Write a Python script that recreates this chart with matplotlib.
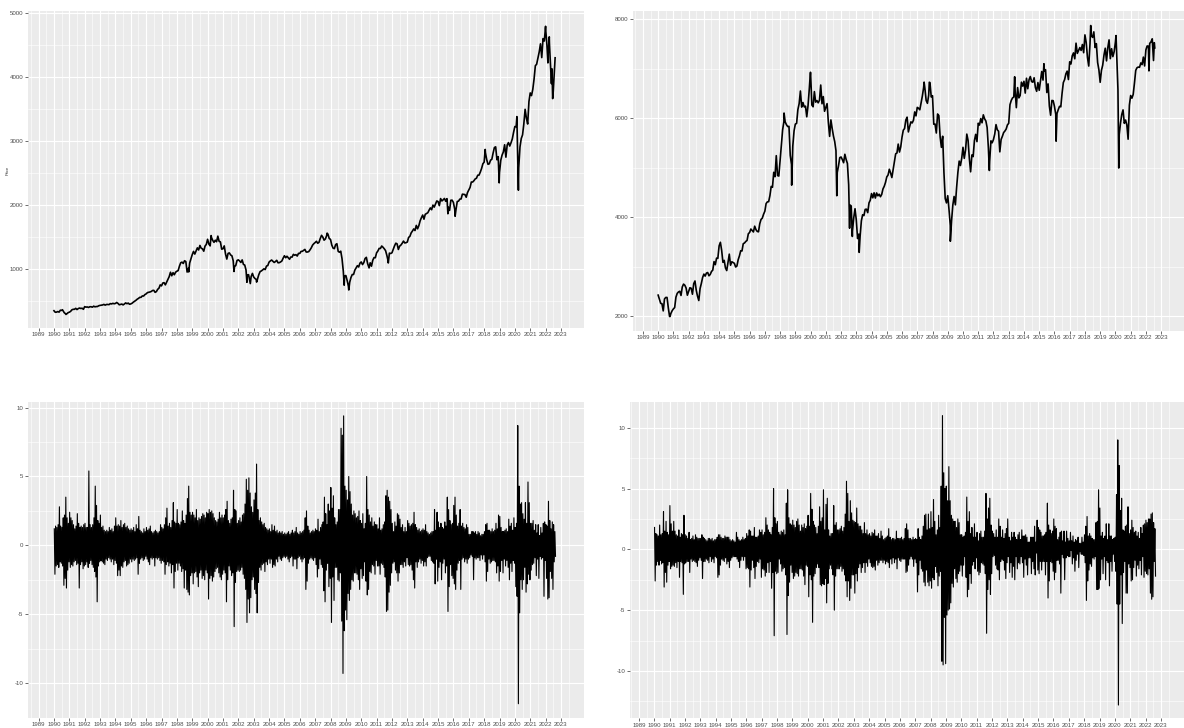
import numpy as np
import matplotlib
matplotlib.use("Agg")
import matplotlib.pyplot as plt

plt.rcParams['font.family'] = ['Liberation Sans', 'DejaVu Sans']
plt.rcParams['axes.unicode_minus'] = False

START_YEAR = 1990

# ---------------- S&P 500 month-end closes (Jan 1990 .. Jul 2022) ----------------
SPX_MONTHLY = [
    329, 331, 340, 331, 361, 358, 356, 323, 306, 304, 322, 330,
    343, 367, 375, 375, 390, 371, 387, 395, 388, 392, 375, 417,
    409, 412, 404, 415, 415, 408, 424, 414, 418, 419, 431, 436,
    439, 443, 452, 440, 450, 451, 448, 464, 459, 468, 462, 466,
    482, 467, 446, 451, 457, 444, 458, 475, 463, 472, 454, 459,
    470, 487, 501, 515, 533, 545, 562, 562, 584, 582, 605, 616,
    636, 641, 646, 654, 669, 671, 640, 652, 687, 705, 757, 741,
    786, 791, 757, 801, 848, 885, 954, 899, 947, 915, 955, 970,
    980, 1049, 1102, 1112, 1091, 1134, 1121, 957, 1017, 1099, 1164, 1229,
    1280, 1238, 1286, 1335, 1302, 1373, 1329, 1320, 1283, 1363, 1389, 1469,
    1394, 1366, 1499, 1452, 1421, 1455, 1431, 1518, 1437, 1429, 1315, 1320,
    1366, 1240, 1160, 1249, 1256, 1224, 1211, 1134, 1041, 1060, 1139, 1148,
    1130, 1107, 1147, 1076, 1067, 990, 912, 916, 815, 886, 936, 880,
    856, 841, 848, 917, 964, 975, 990, 1008, 996, 1051, 1058, 1112,
    1131, 1145, 1126, 1107, 1121, 1141, 1102, 1104, 1115, 1130, 1174, 1212,
    1181, 1204, 1181, 1157, 1192, 1191, 1234, 1220, 1229, 1207, 1249, 1248,
    1280, 1281, 1295, 1311, 1270, 1270, 1277, 1304, 1336, 1378, 1401, 1418,
    1438, 1407, 1421, 1482, 1531, 1503, 1455, 1474, 1527, 1549, 1481, 1468,
    1379, 1331, 1323, 1386, 1400, 1280, 1267, 1283, 1166, 969, 896, 903,
    826, 735, 798, 873, 919, 919, 987, 1021, 1057, 1036, 1096, 1115,
    1074, 1104, 1169, 1187, 1089, 1031, 1102, 1049, 1141, 1183, 1181, 1258,
    1286, 1327, 1326, 1364, 1345, 1321, 1292, 1219, 1131, 1253, 1247, 1258,
    1312, 1366, 1408, 1398, 1310, 1362, 1379, 1407, 1441, 1412, 1416, 1426,
    1498, 1515, 1569, 1598, 1631, 1606, 1686, 1633, 1682, 1757, 1806, 1848,
    1783, 1859, 1872, 1884, 1924, 1960, 1931, 2003, 1972, 2018, 2068, 2059,
    1995, 2105, 2068, 2086, 2107, 2063, 2104, 1972, 1920, 2079, 2080, 2044,
    1940, 1932, 2060, 2065, 2097, 2099, 2174, 2171, 2168, 2126, 2199, 2239,
    2279, 2364, 2363, 2384, 2412, 2423, 2470, 2472, 2519, 2575, 2648, 2674,
    2824, 2714, 2641, 2648, 2705, 2718, 2816, 2902, 2914, 2712, 2760, 2507,
    2704, 2784, 2834, 2946, 2752, 2942, 2980, 2926, 2977, 3038, 3141, 3231,
    3226, 2954, 2585, 2912, 3044, 3100, 3271, 3500, 3363, 3270, 3622, 3756,
    3714, 3811, 3973, 4181, 4204, 4298, 4395, 4523, 4308, 4605, 4567, 4766,
    4516, 4374, 4530, 4132, 4132, 3785, 4130,
]
# intra-month turning points (fractional year, level)
SPX_EXTREME_DATES = [1990.0, 1990.55, 1990.78, 1998.77, 2000.23, 2001.72, 2002.56, 2002.78,
                     2003.19, 2007.78, 2008.89, 2009.19, 2010.51, 2011.76, 2015.64, 2016.11,
                     2018.07, 2018.98, 2020.13, 2020.23, 2022.0, 2022.15, 2022.24, 2022.38,
                     2022.46, 2022.62]
SPX_EXTREME_VALUES = [353, 369, 295, 959, 1527, 966, 797, 777,
                      800, 1565, 752, 677, 1022, 1099, 1868, 1829,
                      2873, 2351, 3386, 2237, 4797, 4225, 4632, 3901,
                      3667, 4305]

# ---------------- FTSE 100 month-end closes (Jan 1990 .. Jul 2022) ----------------
FTSE_MONTHLY = [
    2337, 2255, 2248, 2103, 2345, 2375, 2375, 2163, 1990, 2050, 2105, 2143,
    2170, 2380, 2457, 2486, 2500, 2415, 2588, 2645, 2622, 2566, 2420, 2493,
    2571, 2562, 2440, 2654, 2708, 2521, 2400, 2313, 2553, 2658, 2778, 2847,
    2807, 2868, 2879, 2813, 2840, 2900, 2928, 3100, 3038, 3171, 3166, 3418,
    3491, 3328, 3086, 3125, 2971, 2919, 3082, 3251, 3027, 3097, 3081, 3066,
    2991, 3010, 3138, 3217, 3320, 3315, 3463, 3477, 3508, 3529, 3664, 3689,
    3759, 3728, 3700, 3817, 3747, 3711, 3703, 3867, 3953, 3980, 4059, 4119,
    4276, 4309, 4313, 4436, 4622, 4604, 4907, 4818, 5244, 4842, 4831, 5136,
    5458, 5767, 5932, 5928, 5870, 5833, 5837, 5249, 5064, 5438, 5744, 5883,
    5896, 6175, 6296, 6552, 6226, 6319, 6231, 6246, 6030, 6255, 6597, 6930,
    6268, 6233, 6540, 6327, 6359, 6313, 6365, 6673, 6294, 6439, 6142, 6222,
    6297, 5918, 5634, 5967, 5796, 5643, 5529, 5345, 4903, 5040, 5204, 5217,
    5165, 5101, 5272, 5166, 5086, 4656, 4246, 4227, 3722, 3989, 4170, 3940,
    3567, 3656, 3613, 3926, 4049, 4031, 4157, 4161, 4091, 4288, 4343, 4477,
    4390, 4492, 4386, 4489, 4431, 4464, 4413, 4459, 4571, 4624, 4703, 4814,
    4852, 4969, 4894, 4801, 4964, 5113, 5282, 5297, 5478, 5317, 5423, 5619,
    5760, 5792, 5965, 6023, 5724, 5833, 5928, 5906, 5961, 6129, 6049, 6221,
    6203, 6172, 6308, 6449, 6621, 6608, 6360, 6303, 6467, 6722, 6432, 6457,
    5880, 5884, 5702, 6087, 6054, 5626, 5412, 5637, 4903, 4377, 4288, 4434,
    4150, 3830, 3926, 4244, 4418, 4249, 4608, 4909, 5134, 5045, 5191, 5413,
    5189, 5355, 5680, 5553, 5188, 4917, 5258, 5225, 5549, 5675, 5528, 5900,
    5863, 5994, 5909, 6070, 5990, 5946, 5815, 5395, 5128, 5544, 5505, 5572,
    5682, 5872, 5768, 5738, 5321, 5571, 5635, 5711, 5742, 5783, 5867, 5898,
    6277, 6361, 6412, 6430, 6583, 6215, 6621, 6413, 6462, 6731, 6651, 6749,
    6510, 6810, 6598, 6780, 6845, 6744, 6730, 6820, 6623, 6546, 6723, 6566,
    6749, 6946, 6773, 6961, 6984, 6521, 6696, 6248, 6062, 6361, 6356, 6242,
    6083, 6097, 6175, 6242, 6231, 6504, 6724, 6782, 6899, 6954, 6784, 7143,
    7099, 7263, 7323, 7204, 7520, 7313, 7372, 7431, 7373, 7493, 7327, 7688,
    7534, 7232, 7057, 7509, 7678, 7637, 7749, 7432, 7510, 7128, 6980, 6728,
    6969, 7075, 7279, 7418, 7162, 7426, 7587, 7207, 7408, 7248, 7347, 7542,
    7286, 6581, 5672, 5901, 6077, 6170, 5898, 5964, 5866, 5577, 6266, 6461,
    6407, 6483, 6714, 6970, 7023, 7037, 7032, 7120, 7086, 7238, 7059, 7385,
    7464, 7458, 7516, 7545, 7608, 7169, 7423,
]
FTSE_EXTREME_DATES = [1990.0, 1990.78, 1998.26, 1998.76, 1999.99, 2001.72, 2002.56, 2002.74,
                      2003.19, 2007.45, 2007.79, 2009.17, 2011.73, 2013.39, 2015.31, 2016.11,
                      2018.38, 2020.04, 2020.22, 2022.2, 2022.55]
FTSE_EXTREME_VALUES = [2422, 1990, 6106, 4648, 6930, 4434, 3777, 3609,
                       3287, 6732, 6730, 3512, 4944, 6840, 7104, 5537,
                       7877, 7674, 4994, 6959, 7530]

# ---------------- daily log-returns (%), monthly max / min, Jan 1990 .. Aug 2022 ----------------
FTSE_RET_HI = [
    1.2, 1.4, 1.3, 1.5, 2.8, 1.4, 1.3, 2.0, 2.2, 3.5, 2.0, 1.6,
    2.4, 2.0, 1.8, 1.5, 1.2, 1.4, 2.3, 1.6, 1.3, 1.4, 1.3, 1.5,
    1.6, 1.3, 1.3, 5.4, 1.5, 1.3, 1.5, 2.0, 4.3, 2.9, 1.8, 1.6,
    2.2, 1.3, 1.4, 1.1, 1.0, 1.1, 1.0, 1.3, 1.1, 1.2, 1.0, 1.4,
    2.0, 1.4, 1.5, 1.4, 1.8, 1.3, 1.5, 1.6, 1.3, 1.4, 1.2, 1.1,
    1.2, 1.1, 1.3, 1.0, 1.5, 1.2, 2.1, 1.1, 1.0, 0.9, 1.2, 1.0,
    1.3, 1.1, 1.2, 1.4, 1.0, 0.9, 1.0, 1.1, 1.0, 0.9, 1.0, 1.5,
    1.3, 1.2, 1.5, 2.0, 2.7, 1.4, 1.6, 1.3, 1.8, 3.1, 1.7, 1.6,
    2.6, 1.6, 1.5, 1.7, 2.5, 1.8, 1.6, 2.2, 3.4, 4.3, 2.4, 2.2,
    2.4, 2.2, 2.0, 2.6, 1.8, 2.0, 1.9, 2.1, 2.3, 2.2, 2.0, 2.4,
    2.3, 2.6, 2.4, 2.5, 2.3, 2.0, 1.8, 1.7, 1.9, 2.4, 2.0, 2.2,
    2.0, 2.2, 2.6, 3.2, 1.8, 1.6, 1.9, 2.0, 4.0, 2.6, 2.5, 1.6,
    1.8, 2.0, 1.7, 2.2, 2.3, 3.0, 4.8, 4.0, 4.9, 3.8, 2.8, 2.4,
    3.3, 3.8, 5.9, 2.6, 1.8, 2.0, 1.7, 1.5, 1.6, 1.3, 1.2, 1.1,
    1.2, 1.0, 1.5, 1.1, 1.4, 1.0, 1.1, 0.9, 1.0, 0.9, 1.0, 0.8,
    0.9, 0.8, 0.9, 1.0, 0.8, 0.9, 1.1, 0.9, 1.0, 1.3, 0.9, 0.8,
    1.0, 0.9, 1.0, 1.1, 2.0, 2.5, 1.4, 1.1, 0.9, 1.0, 1.1, 1.0,
    1.2, 1.1, 1.9, 1.0, 1.3, 1.5, 1.7, 3.5, 2.3, 1.5, 3.0, 2.5,
    4.2, 2.7, 3.6, 2.0, 1.5, 1.7, 2.6, 2.6, 8.5, 8.0, 9.4, 4.3,
    4.0, 3.3, 5.0, 3.9, 3.0, 2.2, 2.5, 2.3, 2.0, 2.1, 2.5, 1.8,
    1.6, 2.3, 1.2, 1.6, 5.0, 2.6, 2.2, 1.7, 2.0, 1.4, 1.7, 1.5,
    1.5, 1.2, 2.0, 1.1, 1.2, 1.5, 1.7, 3.6, 4.0, 3.5, 3.2, 2.6,
    1.6, 1.0, 1.7, 1.4, 2.3, 2.2, 1.9, 1.3, 1.5, 1.0, 1.3, 1.0,
    1.8, 1.6, 1.4, 1.5, 1.6, 2.4, 1.5, 1.3, 1.1, 1.2, 1.0, 1.1,
    1.2, 1.1, 1.5, 1.0, 0.9, 0.8, 0.9, 1.0, 1.0, 2.6, 1.1, 2.4,
    1.7, 1.3, 1.6, 1.3, 1.2, 1.7, 1.4, 3.5, 2.6, 1.8, 1.5, 1.6,
    2.9, 3.5, 2.2, 1.4, 1.6, 2.6, 1.4, 1.6, 1.3, 1.2, 1.5, 1.3,
    0.8, 0.8, 1.0, 1.0, 0.9, 1.0, 0.8, 1.0, 0.9, 0.7, 0.8, 0.8,
    1.0, 1.5, 1.6, 1.1, 1.1, 1.0, 1.2, 1.0, 1.1, 1.6, 1.2, 2.2,
    2.1, 1.3, 1.0, 1.0, 1.1, 1.2, 1.0, 1.9, 1.4, 1.6, 1.1, 2.0,
    1.3, 1.6, 8.7, 4.3, 3.0, 3.1, 2.3, 1.9, 3.1, 1.6, 4.6, 3.1,
    1.6, 1.6, 1.8, 1.1, 1.5, 0.9, 1.5, 0.7, 1.3, 0.9, 1.6, 1.7,
    1.5, 1.4, 3.2, 1.8, 1.2, 1.7, 1.5, 1.0,
]
FTSE_RET_LO = [
    -2.1, -1.5, -1.4, -1.6, -1.2, -1.3, -1.5, -2.9, -2.4, -3.1, -1.8, -1.2,
    -1.6, -1.4, -1.5, -1.2, -1.1, -1.4, -1.3, -3.1, -1.4, -1.2, -1.7, -1.5,
    -1.4, -1.2, -1.6, -1.3, -1.1, -1.4, -1.6, -1.9, -2.3, -4.1, -1.5, -1.2,
    -1.1, -1.2, -1.3, -1.4, -1.0, -1.1, -0.9, -1.0, -1.2, -1.0, -1.4, -1.1,
    -1.3, -2.2, -1.8, -2.2, -1.5, -1.6, -1.2, -1.1, -1.5, -1.4, -1.3, -1.0,
    -1.2, -1.0, -1.1, -1.0, -0.9, -2.1, -1.3, -1.0, -0.9, -1.1, -1.0, -0.8,
    -1.0, -1.2, -1.4, -0.9, -1.0, -0.9, -1.5, -0.9, -1.0, -0.9, -1.1, -1.3,
    -1.1, -1.2, -2.1, -1.4, -1.2, -1.5, -1.3, -2.0, -1.4, -3.1, -1.9, -1.3,
    -1.8, -1.3, -1.5, -1.9, -1.7, -3.1, -1.8, -3.2, -3.4, -3.6, -2.2, -2.0,
    -2.8, -2.0, -1.9, -2.3, -3.0, -2.0, -1.8, -2.4, -2.2, -2.5, -1.8, -2.0,
    -3.9, -2.4, -2.2, -2.6, -2.3, -1.9, -1.7, -1.6, -2.0, -2.3, -2.5, -2.1,
    -1.8, -2.0, -4.1, -2.5, -1.5, -1.8, -2.2, -2.0, -5.9, -2.7, -1.9, -1.8,
    -1.9, -1.8, -1.6, -2.1, -2.4, -3.2, -5.6, -3.9, -4.9, -3.8, -2.5, -2.3,
    -3.2, -3.5, -4.9, -2.7, -1.6, -1.8, -1.4, -1.3, -1.9, -1.2, -1.4, -1.0,
    -1.3, -1.0, -1.6, -1.4, -1.5, -1.0, -1.2, -0.8, -1.0, -1.1, -0.9, -0.8,
    -0.9, -0.8, -1.0, -1.2, -0.9, -0.8, -1.5, -1.0, -1.0, -1.7, -0.9, -0.8,
    -1.0, -1.2, -1.0, -0.9, -3.2, -2.6, -1.3, -1.0, -0.9, -1.0, -1.1, -0.9,
    -1.4, -2.3, -1.7, -1.0, -1.4, -1.6, -3.3, -4.1, -1.8, -1.3, -3.0, -2.4,
    -5.6, -2.3, -4.0, -1.6, -1.6, -2.5, -2.6, -2.0, -5.5, -9.3, -6.2, -4.7,
    -5.4, -3.5, -4.0, -3.2, -2.5, -2.6, -2.0, -2.0, -2.1, -2.5, -3.2, -1.7,
    -2.4, -2.2, -1.2, -2.6, -3.6, -3.2, -1.9, -2.0, -1.4, -1.5, -2.1, -1.1,
    -1.5, -1.5, -2.1, -1.3, -1.4, -1.6, -2.3, -4.8, -4.7, -3.4, -2.9, -2.0,
    -1.3, -1.2, -1.8, -2.0, -2.6, -2.0, -1.4, -1.4, -1.6, -1.2, -1.5, -0.9,
    -1.4, -1.5, -1.4, -1.8, -2.5, -3.1, -1.2, -1.6, -1.2, -1.0, -1.3, -1.1,
    -1.5, -1.2, -1.5, -0.9, -0.8, -0.8, -1.1, -1.2, -1.3, -2.8, -1.0, -2.6,
    -1.6, -1.2, -2.5, -1.3, -1.0, -2.0, -1.5, -4.8, -3.0, -1.4, -2.2, -2.4,
    -2.8, -3.2, -1.8, -1.3, -1.1, -3.2, -1.0, -0.9, -1.2, -1.0, -1.3, -1.0,
    -0.9, -0.7, -0.8, -2.5, -0.9, -1.0, -0.9, -0.9, -1.1, -0.7, -1.0, -0.7,
    -1.2, -2.6, -1.9, -1.0, -1.3, -1.2, -1.1, -1.1, -1.2, -2.0, -1.5, -2.6,
    -1.9, -1.1, -2.0, -1.0, -1.5, -1.1, -1.6, -2.5, -1.3, -1.9, -1.1, -1.3,
    -3.0, -3.7, -11.5, -4.9, -2.5, -3.2, -2.5, -1.6, -3.4, -2.8, -2.1, -2.5,
    -1.8, -1.4, -1.3, -0.9, -2.2, -1.0, -2.4, -0.8, -1.0, -0.9, -3.7, -1.1,
    -2.4, -3.9, -3.8, -1.9, -2.4, -3.2, -1.2, -0.8,
]
SPX_RET_HI = [
    1.8, 1.3, 1.2, 1.1, 2.0, 1.2, 1.3, 3.1, 1.5, 2.3, 1.4, 1.2,
    3.6, 2.1, 1.5, 2.3, 1.5, 1.2, 1.1, 1.6, 1.0, 1.3, 1.2, 2.8,
    1.2, 1.1, 0.9, 1.4, 0.8, 0.9, 1.1, 0.8, 1.2, 1.0, 0.9, 0.9,
    0.9, 1.2, 1.0, 0.9, 0.8, 0.7, 0.9, 0.9, 0.8, 0.9, 0.7, 0.8,
    0.8, 1.0, 1.2, 1.2, 1.0, 0.9, 0.9, 1.1, 1.0, 1.0, 1.0, 0.8,
    0.7, 0.8, 0.7, 0.6, 1.4, 1.0, 0.8, 0.7, 0.8, 1.0, 0.8, 0.9,
    1.3, 1.1, 1.6, 1.5, 1.1, 1.1, 1.8, 1.0, 1.0, 1.1, 1.6, 1.4,
    1.6, 1.2, 1.4, 2.6, 2.0, 1.6, 1.4, 1.2, 1.8, 5.0, 2.6, 2.1,
    2.3, 1.4, 1.2, 1.5, 1.4, 1.6, 1.2, 3.8, 4.9, 2.6, 2.1, 2.0,
    2.4, 2.0, 1.8, 2.3, 2.5, 2.0, 1.5, 2.0, 1.8, 2.1, 1.7, 1.9,
    2.8, 1.9, 4.6, 3.3, 2.3, 2.0, 1.8, 1.3, 1.9, 3.5, 2.3, 2.6,
    4.9, 1.6, 3.7, 4.2, 1.6, 1.1, 1.3, 1.3, 3.6, 2.0, 2.2, 1.6,
    1.6, 1.7, 1.9, 1.5, 1.8, 2.9, 5.6, 4.6, 2.3, 4.0, 3.0, 2.4,
    2.3, 2.2, 3.4, 2.1, 1.9, 1.9, 1.6, 1.3, 2.2, 1.3, 1.6, 1.2,
    1.3, 1.1, 1.4, 1.3, 1.6, 1.1, 1.1, 1.3, 0.9, 1.5, 1.1, 0.8,
    0.9, 1.0, 1.1, 1.7, 1.0, 0.8, 0.9, 0.9, 0.8, 1.5, 0.9, 0.9,
    0.9, 1.0, 0.8, 0.9, 1.7, 2.1, 1.6, 0.9, 0.9, 0.8, 1.0, 0.8,
    0.9, 0.8, 1.7, 1.0, 0.8, 1.1, 1.9, 2.8, 2.9, 1.6, 2.9, 1.7,
    3.1, 1.8, 4.1, 2.3, 1.2, 1.6, 2.8, 1.8, 5.2, 11.0, 6.3, 5.0,
    5.2, 4.0, 6.8, 4.0, 2.8, 2.5, 2.3, 2.3, 1.8, 2.5, 2.2, 1.2,
    1.2, 1.0, 1.1, 1.4, 4.3, 2.3, 3.1, 1.3, 1.8, 1.0, 2.1, 1.0,
    1.4, 0.7, 1.3, 1.5, 1.0, 1.0, 1.5, 4.6, 2.5, 3.4, 4.2, 2.0,
    1.5, 1.3, 1.0, 1.6, 1.0, 2.5, 1.9, 1.0, 1.6, 0.9, 1.3, 1.7,
    2.5, 1.0, 0.7, 1.4, 1.0, 1.4, 1.0, 0.8, 1.2, 1.4, 0.8, 1.6,
    1.1, 1.1, 1.2, 1.0, 0.6, 0.6, 1.0, 1.0, 1.0, 1.9, 0.6, 2.4,
    1.8, 1.6, 1.4, 1.1, 1.1, 1.2, 1.4, 3.8, 2.0, 1.6, 1.3, 1.5,
    2.5, 1.9, 1.7, 0.8, 1.0, 1.4, 1.5, 0.7, 1.5, 0.6, 1.5, 0.9,
    0.7, 1.4, 0.7, 1.1, 0.6, 0.8, 0.7, 1.0, 0.5, 0.5, 1.0, 0.6,
    1.2, 1.9, 2.7, 1.1, 1.3, 1.1, 0.9, 0.8, 0.8, 2.2, 2.3, 4.9,
    3.4, 1.1, 1.4, 0.9, 1.1, 2.1, 0.8, 2.1, 1.1, 1.1, 0.8, 0.9,
    1.0, 4.5, 9.0, 6.9, 3.2, 4.2, 1.6, 1.5, 1.9, 2.0, 3.5, 1.3,
    1.6, 2.4, 1.8, 1.4, 1.5, 1.1, 1.4, 0.9, 1.8, 1.3, 2.0, 2.1,
    2.4, 2.2, 2.5, 2.5, 2.9, 3.0, 2.2, 1.7,
]
SPX_RET_LO = [
    -2.6, -1.3, -1.0, -1.3, -0.9, -1.2, -1.1, -3.1, -1.9, -2.7, -1.3, -1.0,
    -1.6, -1.4, -1.3, -1.4, -1.1, -1.5, -1.0, -2.3, -1.0, -1.1, -3.7, -1.2,
    -1.1, -1.0, -1.0, -1.9, -0.8, -1.0, -0.9, -1.0, -1.1, -1.4, -0.9, -0.7,
    -0.9, -2.4, -1.0, -1.0, -0.8, -0.9, -1.1, -0.6, -1.0, -0.8, -1.1, -0.6,
    -0.7, -2.3, -2.1, -1.3, -0.8, -0.9, -1.0, -0.7, -1.2, -1.0, -1.5, -0.9,
    -0.7, -0.6, -0.6, -0.6, -0.8, -1.0, -1.5, -0.9, -0.6, -0.9, -0.6, -1.6,
    -1.5, -1.6, -3.1, -1.7, -0.9, -1.5, -2.4, -1.4, -1.0, -1.1, -0.8, -2.3,
    -1.6, -1.7, -2.2, -1.9, -1.1, -1.9, -1.0, -3.2, -1.9, -7.1, -1.8, -2.0,
    -1.9, -0.8, -1.2, -1.8, -1.6, -1.5, -2.1, -7.0, -3.8, -2.7, -1.3, -1.9,
    -2.4, -2.2, -1.9, -2.0, -2.2, -1.6, -1.6, -1.7, -2.2, -2.9, -1.3, -1.4,
    -3.9, -2.1, -2.5, -6.0, -2.2, -2.0, -1.5, -1.2, -1.5, -2.9, -3.0, -2.8,
    -2.9, -2.4, -4.4, -2.8, -1.6, -1.3, -1.6, -2.1, -5.0, -2.2, -1.6, -1.6,
    -1.6, -1.4, -1.8, -1.6, -2.1, -2.6, -3.9, -2.6, -4.2, -3.2, -2.1, -2.1,
    -3.6, -2.0, -2.6, -1.5, -1.2, -1.9, -1.5, -1.1, -1.9, -1.1, -1.4, -0.8,
    -1.1, -1.4, -1.5, -1.4, -1.7, -0.9, -1.3, -1.1, -0.9, -0.9, -1.1, -0.9,
    -1.2, -1.0, -1.1, -1.5, -0.8, -1.2, -0.7, -1.1, -0.8, -1.6, -0.7, -0.9,
    -1.0, -0.8, -0.8, -0.8, -1.9, -1.8, -1.3, -0.8, -0.6, -0.8, -1.4, -0.8,
    -1.1, -3.5, -2.1, -0.9, -1.6, -1.8, -2.7, -3.0, -1.7, -2.7, -3.0, -2.6,
    -3.2, -2.3, -2.5, -1.4, -1.9, -3.0, -2.2, -1.8, -9.2, -9.5, -5.6, -9.4,
    -5.4, -5.0, -4.9, -4.4, -2.8, -3.1, -1.6, -2.4, -2.7, -2.0, -1.8, -1.3,
    -2.2, -1.3, -0.6, -2.3, -3.9, -3.3, -2.0, -2.8, -1.3, -1.0, -1.6, -0.7,
    -1.8, -2.1, -1.9, -1.1, -1.2, -1.3, -2.0, -6.9, -3.3, -2.5, -3.7, -2.0,
    -0.6, -0.5, -1.3, -1.6, -1.7, -2.5, -1.0, -0.8, -0.9, -1.7, -2.4, -1.1,
    -0.6, -1.9, -1.1, -2.3, -1.4, -2.5, -0.6, -1.6, -1.1, -1.2, -0.6, -1.1,
    -2.3, -0.8, -1.3, -2.1, -0.7, -0.7, -2.0, -1.0, -1.6, -2.1, -0.3, -1.7,
    -2.0, -1.0, -1.7, -1.0, -1.0, -2.1, -1.0, -4.0, -2.6, -1.0, -1.1, -1.8,
    -2.5, -1.9, -0.9, -0.9, -1.2, -3.6, -0.4, -0.7, -2.5, -0.7, -0.5, -0.6,
    -0.6, -0.1, -1.2, -0.7, -1.8, -0.9, -0.4, -1.5, -0.2, -0.4, -0.4, -0.5,
    -1.1, -4.2, -2.6, -1.7, -1.2, -1.4, -0.7, -0.8, -0.6, -3.3, -3.3, -3.2,
    -2.5, -0.8, -2.0, -0.6, -2.5, -0.9, -1.1, -3.0, -1.0, -1.8, -0.4, -1.0,
    -1.8, -4.5, -12.8, -4.5, -2.1, -6.1, -1.9, -1.0, -3.6, -3.6, -1.2, -1.5,
    -2.6, -2.5, -1.5, -0.9, -2.2, -1.3, -1.6, -0.9, -2.1, -0.6, -2.3, -1.8,
    -2.0, -2.1, -1.6, -3.6, -4.1, -3.9, -1.0, -2.2,
]

YEARS = list(range(1989, 2024))
YEAR_LABELS = [str(y) for y in YEARS]

W, H = 1184, 728
fig = plt.figure(figsize=(W / 100, H / 100), dpi=100)


def add_ax(left, right, top, bottom):
    return fig.add_axes([left / W, 1 - bottom / H, (right - left) / W, (bottom - top) / H])


def style(ax, xlim, ylim, ymajor, yminor):
    ax.set_facecolor('#EBEBEB')
    for s in ax.spines.values():
        s.set_visible(False)
    ax.set_xlim(*xlim)
    ax.set_ylim(*ylim)
    ax.set_xticks(YEARS)
    ax.set_xticklabels(YEAR_LABELS)
    ax.set_xticks([y + 0.5 for y in range(1988, 2025)], minor=True)
    ax.set_yticks(ymajor)
    ax.set_yticklabels([str(v) for v in ymajor])
    ax.set_yticks(yminor, minor=True)
    ax.grid(which='major', color='white', lw=0.8)
    ax.grid(which='minor', color='white', lw=0.4)
    ax.set_axisbelow(True)
    ax.tick_params(which='major', length=2.0, width=0.5, color='#333333',
                   labelsize=4.4, labelcolor='#4D4D4D', pad=1.2)
    ax.tick_params(which='minor', length=0)


def price_series(monthly, ext_dates, ext_vals):
    t = [START_YEAR + (i + 1) / 12 for i in range(len(monthly))]
    t = np.array(t + list(ext_dates))
    v = np.array(list(monthly) + list(ext_vals), dtype=float)
    order = np.argsort(t)
    return t[order], v[order]


def return_series(hi, lo):
    t, v = [], []
    for i, (h, l) in enumerate(zip(hi, lo)):
        t += [START_YEAR + (i + 0.25) / 12, START_YEAR + (i + 0.75) / 12]
        v += [h, l]
    return np.array(t), np.array(v)


# top-left: S&P 500 level
ax1 = add_ax(28, 584, 11, 328)
t, v = price_series(SPX_MONTHLY, SPX_EXTREME_DATES, SPX_EXTREME_VALUES)
ax1.plot(t, v, color='black', lw=1.2)
style(ax1, (1988.31, 2024.17), (83, 5036), [1000, 2000, 3000, 4000, 5000],
      [500, 1500, 2500, 3500, 4500])
fig.text(8 / W, 1 - 170 / H, 'Price', rotation=90, fontsize=3,
         color='#333333', ha='center', va='center')

# top-right: FTSE 100 level
ax2 = add_ax(633, 1184, 11, 331)
t, v = price_series(FTSE_MONTHLY, FTSE_EXTREME_DATES, FTSE_EXTREME_VALUES)
ax2.plot(t, v, color='black', lw=1.2)
style(ax2, (1988.35, 2023.24), (1696, 8171), [2000, 4000, 6000, 8000],
      [3000, 5000, 7000])

# bottom-left: FTSE 100 returns
ax3 = add_ax(28, 584, 401.7, 717.5)
t, v = return_series(FTSE_RET_HI, FTSE_RET_LO)
ax3.plot(t, v, color='black', lw=0.8)
style(ax3, (1988.31, 2024.17), (-12.48, 10.43), [-10, -5, 0, 5, 10],
      [-12.5, -7.5, -2.5, 2.5, 7.5])

# bottom-right: S&P 500 returns
ax4 = add_ax(629.5, 1184, 401.7, 718.3)
t, v = return_series(SPX_RET_HI, SPX_RET_LO)
ax4.plot(t, v, color='black', lw=0.8)
style(ax4, (1988.39, 2023.77), (-13.89, 12.14), [-10, -5, 0, 5, 10],
      [-12.5, -7.5, -2.5, 2.5, 7.5])

fig.savefig('out.png', dpi=100, facecolor='white')
